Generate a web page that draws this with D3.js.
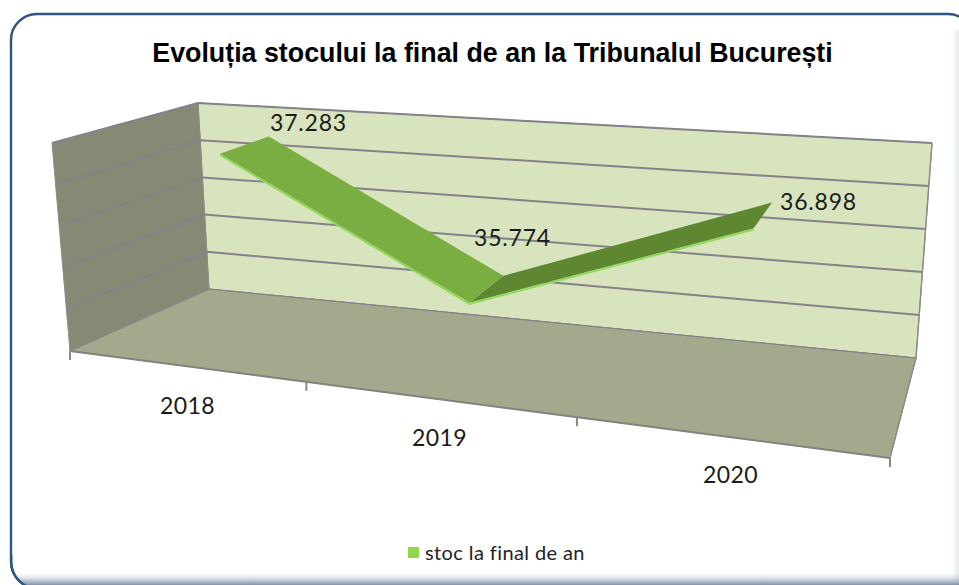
<!DOCTYPE html>
<html><head><meta charset="utf-8">
<script src="https://cdn.jsdelivr.net/npm/d3@7/dist/d3.min.js"></script>
<style>html,body{margin:0;padding:0;background:#fff;overflow:hidden}svg{display:block}</style>
</head><body><svg id="c" width="959" height="585"></svg>
<script>
const titleText = "Evoluția stocului la final de an la Tribunalul București";
const categories = ["2018", "2019", "2020"];
const stockValues = [37283, 35774, 36898];
const valueLabels = ["37.283", "35.774", "36.898"];
const valueTicks = [35000, 35500, 36000, 36500, 37000, 37500];
const legendLabel = "stoc la final de an";

const svg = d3.select("#c");
const defs = svg.append("defs");
const shadow = defs.append("linearGradient").attr("id","bs").attr("x1",0).attr("x2",0).attr("y1",0).attr("y2",1);
shadow.append("stop").attr("offset","0").attr("stop-color","#8a98ae").attr("stop-opacity",0);
shadow.append("stop").attr("offset","0.4").attr("stop-color","#8a98ae").attr("stop-opacity",0.25);
shadow.append("stop").attr("offset","1").attr("stop-color","#7c8ba3").attr("stop-opacity",0.95);
const rshadow = defs.append("linearGradient").attr("id","rs").attr("x1",0).attr("x2",1).attr("y1",0).attr("y2",0);
rshadow.append("stop").attr("offset","0").attr("stop-color","#8a98ae").attr("stop-opacity",0);
rshadow.append("stop").attr("offset","1").attr("stop-color","#8a98ae").attr("stop-opacity",0.22);
defs.append("clipPath").attr("id","fr").append("rect").attr("x",11).attr("y",14).attr("width",963).attr("height",574).attr("rx",26);

// Frame
svg.append("rect").attr("x",11).attr("y",14).attr("width",963).attr("height",574).attr("rx",26)
  .attr("fill","#fff").attr("stroke","#2f5580").attr("stroke-width",2.4);
const sg = svg.append("g").attr("clip-path","url(#fr)");
sg.append("rect").attr("x",952).attr("y",30).attr("width",7).attr("height",555).attr("fill","url(#rs)");
sg.append("rect").attr("x",11).attr("y",573).attr("width",948).attr("height",12).attr("fill","url(#bs)");
svg.append("path").attr("d","M11.2,555 L11.2,562 Q12,578 26,586").attr("fill","none").attr("stroke","#2f5580").attr("stroke-width",2.4);

// Scales
const xBand = d3.scaleBand().domain(categories).range([0,1]);
const yVal = d3.scaleLinear().domain([35000,37500]).range([0,1]);
const persp = u => 0.81*u/(1+(0.81-1)*u);
const corners = {
  fb:[[70,351],[890,458]], bb:[[209,289],[916,358]],
  ft:[[52,143],[908,208]], bt:[[198,103],[932,143]]
};
const mix=(a,b,t)=>[a[0]+(b[0]-a[0])*t,a[1]+(b[1]-a[1])*t];
function P(u,v,w){
  const t=persp(u);
  const bot=mix(mix(corners.fb[0],corners.fb[1],t),mix(corners.bb[0],corners.bb[1],t),w);
  const top=mix(mix(corners.ft[0],corners.ft[1],t),mix(corners.bt[0],corners.bt[1],t),w);
  return mix(bot,top,v);
}
const poly=d3.line();
const wall=(pts,fill)=>svg.append("path").attr("d",poly(pts)+"Z").attr("fill",fill).attr("stroke","#8c8c86").attr("stroke-width",1);

wall([P(0,0,1),P(1,0,1),P(1,1,1),P(0,1,1)],"#d8e4bd");
wall([P(0,0,0),P(0,0,1),P(0,1,1),P(0,1,0)],"#868a75");
wall([P(0,0,0),P(1,0,0),P(1,0,1),P(0,0,1)],"#a2a98d");

// Gridlines
valueTicks.forEach(k=>{
  const v=yVal(k);
  svg.append("path").attr("d",poly([P(0,v,0),P(0,v,1),P(1,v,1)])).attr("fill","none")
    .attr("stroke","#85838a").attr("stroke-width",k===35000?1:2);
});
// Front edge + ticks
svg.append("path").attr("d",poly([P(0,0,0),P(1,0,0)])).attr("stroke","#84847f").attr("stroke-width",2).attr("fill","none");
[0,1/3,2/3,1].forEach(u=>{
  const p=P(u,0,0);
  svg.append("line").attr("x1",p[0]).attr("x2",p[0]).attr("y1",p[1]).attr("y2",p[1]+9).attr("stroke","#8a8a86").attr("stroke-width",2);
});
svg.append("path").attr("d",poly([P(1,0,0),P(1,0,1),P(1,1,1)])).attr("stroke","#8c8c86").attr("stroke-width",1.4).attr("fill","none");

// Ribbon
const wF=0.37,wB=0.75;
const uOf=c=>xBand(c)+xBand.bandwidth()/2;
const front=categories.map((c,i)=>P(uOf(c),yVal(stockValues[i]),wF));
const back=categories.map((c,i)=>P(uOf(c),yVal(stockValues[i]),wB));
const segFill=["#7bae42","#5f8732"];
svg.append("path").attr("d",poly(front.map(p=>[p[0],p[1]+1.2]))).attr("fill","none").attr("stroke","#92d95a").attr("stroke-width",2);
[1,0].forEach(i=>{
  svg.append("path").attr("d",poly([front[i],front[i+1],back[i+1],back[i]])+"Z").attr("fill",segFill[i]);
});

// Data labels
const labelFont="Lato, 'Open Sans', sans-serif";
const lblPos=[[308.5,131],[512.5,246],[818.5,210]];
categories.forEach((c,i)=>{
  svg.append("text").attr("x",lblPos[i][0]).attr("y",lblPos[i][1])
    .attr("text-anchor","middle").attr("font-family",labelFont).attr("font-size",23).attr("letter-spacing",0.8).attr("fill","#1a1a1a")
    .text(valueLabels[i]);
});

// Category labels
const catPos=[[187.5,414],[439.5,446],[730.5,483]];
categories.forEach((c,i)=>{
  svg.append("text").attr("x",catPos[i][0]).attr("y",catPos[i][1]).attr("text-anchor","middle")
    .attr("font-family",labelFont).attr("font-size",23).attr("letter-spacing",0.4).attr("fill","#1a1a1a").text(c);
});

// Title
svg.append("text").attr("x",492.5).attr("y",62).attr("text-anchor","middle")
  .attr("font-family","'Liberation Sans', Arial, sans-serif").attr("font-weight",700).attr("font-size",26.8)
  .attr("fill","#000").text(titleText);

// Legend
svg.append("rect").attr("x",408).attr("y",547).attr("width",11).attr("height",11).attr("fill","#92d64f");
svg.append("text").attr("x",425).attr("y",560).attr("font-family",labelFont).attr("font-size",20).attr("letter-spacing",0.4).attr("fill","#222").text(legendLabel);
</script></body></html>
